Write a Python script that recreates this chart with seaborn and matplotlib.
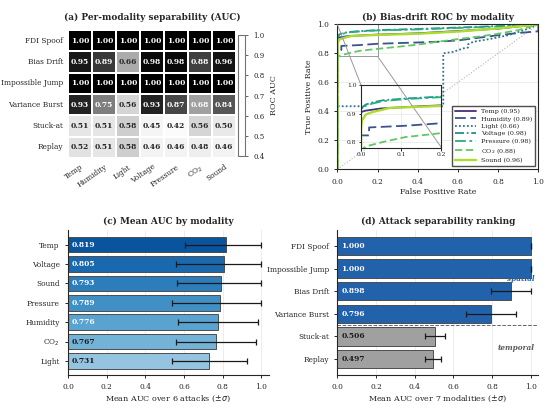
import numpy as np
import pandas as pd
import matplotlib
matplotlib.use("Agg")
import matplotlib.pyplot as plt
import seaborn as sns
from mpl_toolkits.axes_grid1.inset_locator import mark_inset

# ---- data ----
attacks = ['FDI Spoof', 'Bias Drift', 'Impossible Jump', 'Variance Burst', 'Stuck-at', 'Replay']
modalities = ['Temp', 'Humidity', 'Light', 'Voltage', 'Pressure', 'CO$_2$', 'Sound']

auc_fdi = [1.00, 1.00, 1.00, 1.00, 1.00, 1.00, 1.00]
auc_bias = [0.95, 0.89, 0.66, 0.98, 0.98, 0.88, 0.96]
auc_jump = [1.00, 1.00, 1.00, 1.00, 1.00, 1.00, 1.00]
auc_var = [0.93, 0.75, 0.56, 0.93, 0.87, 0.68, 0.84]
auc_stuck = [0.51, 0.51, 0.58, 0.45, 0.42, 0.56, 0.50]
auc_replay = [0.52, 0.51, 0.58, 0.46, 0.46, 0.48, 0.46]

# bias-drift ROC curves (fpr, tpr)
roc_temp = ([0, 0, 0.01, 0.05, 0.1, 0.15, 0.2, 0.4, 0.6, 0.8, 1.0],
            [0, 0.905, 0.91, 0.918, 0.922, 0.926, 0.929, 0.938, 0.954, 0.97, 1.0])
roc_hum = ([0, 0, 0.02, 0.02, 0.11, 0.2, 0.4, 0.5, 0.6, 0.7, 0.8, 0.9, 1.0, 1.0],
           [0, 0.823, 0.823, 0.851, 0.857, 0.866, 0.875, 0.88, 0.889, 0.907, 0.925, 0.94, 0.952, 1.0])
roc_light = ([0, 0, 0.527, 0.527, 0.576, 0.626, 0.65, 0.65, 0.677, 0.76, 0.85, 0.93, 1.0],
             [0, 0.435, 0.435, 0.80, 0.81, 0.834, 0.84, 0.862, 0.88, 0.899, 0.925, 0.96, 1.0])
roc_volt = ([0, 0, 0.005, 0.012, 0.03, 0.055, 0.11, 0.2, 0.4, 0.6, 0.8, 1.0],
            [0, 0.91, 0.925, 0.932, 0.94, 0.947, 0.953, 0.96, 0.968, 0.978, 0.988, 1.0])
roc_press = ([0, 0, 0.005, 0.012, 0.03, 0.055, 0.11, 0.2, 0.4, 0.6, 0.8, 1.0],
             [0, 0.915, 0.92, 0.928, 0.936, 0.944, 0.951, 0.958, 0.965, 0.975, 0.985, 1.0])
roc_co2 = ([0, 0, 0.012, 0.055, 0.11, 0.2, 0.3, 0.4, 0.5, 0.6, 0.7, 0.8, 0.9, 1.0],
           [0, 0.77, 0.784, 0.80, 0.817, 0.831, 0.845, 0.86, 0.88, 0.898, 0.915, 0.935, 0.96, 1.0])
roc_sound = ([0, 0, 0.002, 0.012, 0.03, 0.055, 0.07, 0.11, 0.2, 0.4, 0.6, 0.8, 1.0],
             [0, 0.846, 0.875, 0.897, 0.906, 0.914, 0.92, 0.922, 0.927, 0.935, 0.95, 0.972, 1.0])

# mean AUC per modality (sorted) and per attack
mod_order = ['Temp', 'Voltage', 'Sound', 'Pressure', 'Humidity', 'CO$_2$', 'Light']
mod_mean = [0.819, 0.805, 0.793, 0.789, 0.776, 0.767, 0.731]
mod_std = [0.216, 0.247, 0.228, 0.250, 0.206, 0.206, 0.193]

att_order = ['FDI Spoof', 'Impossible Jump', 'Bias Drift', 'Variance Burst', 'Stuck-at', 'Replay']
att_group = ['spatial', 'spatial', 'spatial', 'spatial', 'temporal', 'temporal']
att_mean = [1.000, 1.000, 0.898, 0.796, 0.506, 0.497]
att_std = [0.0, 0.0, 0.105, 0.128, 0.052, 0.041]

# ---- style ----
sns.set_theme(style="ticks")
plt.rcParams['font.family'] = ['DejaVu Serif']
plt.rcParams['axes.edgecolor'] = '0.15'
plt.rcParams['axes.linewidth'] = 0.8
plt.rcParams['xtick.major.size'] = 2.5
plt.rcParams['ytick.major.size'] = 2.5
plt.rcParams['xtick.major.width'] = 0.7
plt.rcParams['ytick.major.width'] = 0.7

TITLE = 6.4
TICK = 5.3
LAB = 5.8
ANN = 5.4

fig = plt.figure(figsize=(5.5, 4.09), dpi=100)

# ---- (a) heatmap ----
ax_a = fig.add_axes([0.1236, 0.6137, 0.3055, 0.313])
cax = fig.add_axes([0.4327, 0.6186, 0.0127, 0.2958])
auc = pd.DataFrame([auc_fdi, auc_bias, auc_jump, auc_var, auc_stuck, auc_replay],
                   index=attacks, columns=modalities)
sns.heatmap(auc, ax=ax_a, cmap='Greys', vmin=0.4, vmax=1.0, annot=True, fmt='.2f',
            annot_kws={'size': ANN, 'weight': 'bold'}, linewidths=1.1, linecolor='white',
            cbar_ax=cax, cbar_kws={'ticks': [0.4, 0.5, 0.6, 0.7, 0.8, 0.9, 1.0]})
ax_a.tick_params(length=0, labelsize=TICK)
ax_a.set_yticklabels(attacks, rotation=0)
ax_a.set_xticklabels(modalities, rotation=35, ha='right', rotation_mode='anchor')
ax_a.set_xlabel('')
ax_a.set_ylabel('')
ax_a.set_title('(a) Per-modality separability (AUC)', fontsize=TITLE, weight='bold', pad=7)
cbar = ax_a.collections[0].colorbar
cbar.solids.set_alpha(0)
cbar.outline.set_edgecolor('0.45')
cbar.outline.set_linewidth(0.8)
cax.tick_params(labelsize=TICK - 0.3, length=2.5, width=0.6, color='0.3')
cbar.set_label('ROC AUC', fontsize=LAB, labelpad=4)

# ---- (b) ROC ----
ax_b = fig.add_axes([0.6133, 0.586, 0.3655, 0.3545])
roc_curves = [roc_temp, roc_hum, roc_light, roc_volt, roc_press, roc_co2, roc_sound]
colors = sns.color_palette('viridis', 7)
styles = ['-', (0, (6, 2.5)), (0, (1, 1.2)), (0, (5, 1.5, 1, 1.5)), (0, (6, 2, 1.5, 2)),
          (0, (4, 2)), '-']
widths = [1.3, 1.3, 1.3, 1.3, 1.3, 1.3, 1.7]
axins = ax_b.inset_axes([0.118, 0.15, 0.40, 0.43])
for ax in (ax_b, axins):
    ax.plot([0, 1], [0, 1], ls=':', color='0.7', lw=0.8, zorder=1)
    for m, curve, c, ls, lw, v in zip(modalities, roc_curves, colors, styles, widths, auc_bias):
        ax.plot(curve[0], curve[1], color=c, ls=ls, lw=lw, label=f'{m} ({v:.2f})', zorder=2)
ax_b.set_xlim(0, 1)
ax_b.set_ylim(0, 1)
ax_b.set_xticks(np.arange(0, 1.01, 0.2))
ax_b.set_yticks(np.arange(0, 1.01, 0.2))
ax_b.grid(True, color='0.9', lw=0.5)
ax_b.tick_params(labelsize=TICK)
ax_b.set_xlabel('False Positive Rate', fontsize=LAB, labelpad=2)
ax_b.set_ylabel('True Positive Rate', fontsize=LAB, labelpad=3)
ax_b.set_title('(b) Bias-drift ROC by modality', fontsize=TITLE, weight='bold', pad=3)
axins.set_xlim(0, 0.2)
axins.set_ylim(0.78, 1.0)
axins.set_xticks([0, 0.1, 0.2])
axins.set_yticks([0.8, 0.9, 1.0])
axins.grid(True, color='0.9', lw=0.5)
axins.tick_params(labelsize=4.3, length=1.8, pad=1.5)
mark_inset(ax_b, axins, loc1=2, loc2=4, fc='none', ec='0.6', lw=0.7)
ax_b.legend(loc='lower right', fontsize=4.6, frameon=True,
            fancybox=False, edgecolor='0.3', framealpha=1, handlelength=3.2,
            borderpad=0.5, labelspacing=0.3)

# ---- (c) mean AUC by modality ----
ax_c = fig.add_axes([0.1236, 0.0831, 0.3655, 0.3545])
blues = [plt.cm.Blues(v) for v in np.linspace(0.86, 0.40, len(mod_order))]
sns.barplot(x=mod_mean, y=mod_order, hue=mod_order, palette=blues, legend=False,
            saturation=1, ax=ax_c, edgecolor='0.3', linewidth=0.7, width=0.8, zorder=2)
lo = [m - max(m - s, 0) for m, s in zip(mod_mean, mod_std)]
hi = [min(m + s, 1) - m for m, s in zip(mod_mean, mod_std)]
ax_c.errorbar(mod_mean, range(len(mod_order)), xerr=[lo, hi], fmt='none',
              ecolor='0.1', elinewidth=0.9, capsize=2.5, capthick=0.9, zorder=3)
for i, (m, c) in enumerate(zip(mod_mean, blues)):
    lum = 0.299 * c[0] + 0.587 * c[1] + 0.114 * c[2]
    ax_c.text(0.02, i, f'{m:.3f}', va='center', ha='left', fontsize=ANN,
              weight='bold', color='white' if lum < 0.6 else '0.1', zorder=4)
ax_c.set_xlim(0, 1.04)
ax_c.set_ylim(6.72, -0.75)
ax_c.set_xticks(np.arange(0, 1.01, 0.2))
ax_c.grid(True, axis='x', color='0.9', lw=0.5, zorder=0)
ax_c.tick_params(labelsize=TICK)
ax_c.set_xlabel('Mean AUC over 6 attacks ($\\pm\\sigma$)', fontsize=LAB, labelpad=2)
ax_c.set_ylabel('')
ax_c.set_title('(c) Mean AUC by modality', fontsize=TITLE, weight='bold', pad=4)
sns.despine(ax=ax_c)

# ---- (d) attack ranking ----
ax_d = fig.add_axes([0.6133, 0.0831, 0.3655, 0.3545])
group_colors = {'spatial': '#2262ab', 'temporal': '#a0a0a0'}
sns.barplot(x=att_mean, y=att_order, hue=att_group, palette=group_colors, legend=False,
            saturation=1, ax=ax_d, edgecolor='0.3', linewidth=0.7, width=0.8, dodge=False,
            zorder=2)
lo = [m - max(m - s, 0) for m, s in zip(att_mean, att_std)]
hi = [min(m + s, 1) - m for m, s in zip(att_mean, att_std)]
ax_d.errorbar(att_mean, range(len(att_order)), xerr=[lo, hi], fmt='none',
              ecolor='0.1', elinewidth=0.9, capsize=2.5, capthick=0.9, zorder=3)
for i, (m, g) in enumerate(zip(att_mean, att_group)):
    ax_d.text(0.02, i, f'{m:.3f}', va='center', ha='left', fontsize=ANN,
              weight='bold', color='white' if g == 'spatial' else '0.1', zorder=4)
ax_d.axhline(3.5, color='0.4', ls='--', lw=0.7, zorder=1)
ax_d.text(1.02, 1.45, 'spatial', color=group_colors['spatial'], style='italic',
          weight='bold', fontsize=ANN - 0.2, ha='right', va='center', zorder=4)
ax_d.text(1.02, 4.5, 'temporal', color='0.35', style='italic', weight='bold',
          fontsize=ANN - 0.2, ha='right', va='center', zorder=4)
ax_d.set_xlim(0, 1.04)
ax_d.set_ylim(5.7, -0.7)
ax_d.set_xticks(np.arange(0, 1.01, 0.2))
ax_d.grid(True, axis='x', color='0.9', lw=0.5, zorder=0)
ax_d.tick_params(labelsize=TICK)
ax_d.set_xlabel('Mean AUC over 7 modalities ($\\pm\\sigma$)', fontsize=LAB, labelpad=2)
ax_d.set_ylabel('')
ax_d.set_title('(d) Attack separability ranking', fontsize=TITLE, weight='bold', pad=4)
sns.despine(ax=ax_d)

fig.savefig('out.png', dpi=100)
plt.close(fig)
